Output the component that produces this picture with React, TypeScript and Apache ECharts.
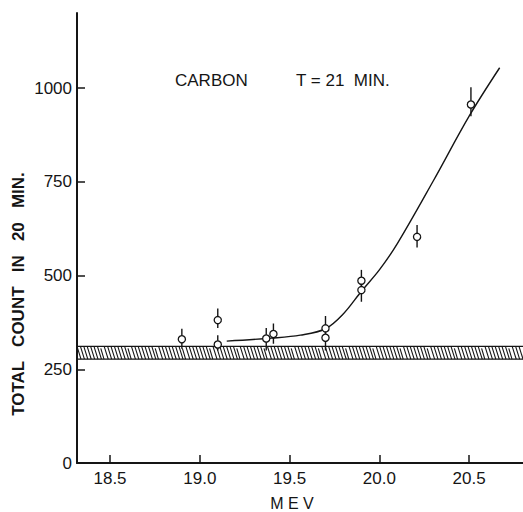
import React, { useEffect, useRef } from "react";
import * as echarts from "echarts";

// Measured points: energy (MeV), total count, error bar low/high
const pointX = [18.9, 19.1, 19.1, 19.37, 19.41, 19.7, 19.7, 19.9, 19.9, 20.21, 20.51];
const pointY = [330, 381, 316, 332, 344, 359, 334, 486, 461, 603, 956];
const errLow = [305, 360, 300, 300, 318, 335, 300, 470, 430, 575, 925];
const errHigh = [358, 412, 341, 360, 372, 392, 350, 515, 478, 635, 1002];

// Fitted curve
const curveX = [19.15, 19.4, 19.56, 19.7, 19.8, 19.9, 20.0, 20.1, 20.3, 20.5, 20.67];
const curveY = [325, 333, 341, 358, 398, 458, 515, 585, 752, 925, 1054];

// Background band
const bandLow = 277;
const bandHigh = 311;

const xTicks = [18.5, 19.0, 19.5, 20.0, 20.5];
const yTicks = [0, 250, 500, 750, 1000];
const xMin = 18.316;
const xMax = 20.8;
const yMin = 0;
const yMax = 1200;

const INK = "#151515";
const FONT = "'Liberation Sans', Arial, sans-serif";

export default function App() {
  const ref = useRef<HTMLDivElement>(null);
  useEffect(() => {
    document.body.style.margin = "0";
    const chart = echarts.init(ref.current!, null, { renderer: "svg" });
    const option: any = {
      animation: false,
      backgroundColor: "#ffffff",
      grid: { left: 77, top: 13, right: 0, bottom: 49, containLabel: false },
      xAxis: {
        type: "value",
        min: xMin,
        max: xMax,
        splitLine: { show: false },
        axisLine: { show: true, onZero: false, lineStyle: { color: INK, width: 2 } },
        axisTick: { show: true, inside: true, length: 8, customValues: xTicks, lineStyle: { color: INK, width: 1.5 } },
        axisLabel: {
          customValues: xTicks,
          formatter: (v: number) => v.toFixed(1),
          color: INK,
          fontSize: 17,
          fontFamily: FONT,
          margin: 7,
        },
      },
      yAxis: {
        type: "value",
        min: yMin,
        max: yMax,
        splitLine: { show: false },
        axisLine: { show: true, onZero: false, lineStyle: { color: INK, width: 2 } },
        axisTick: { show: true, inside: true, length: 8, customValues: yTicks, lineStyle: { color: INK, width: 1.5 } },
        axisLabel: {
          customValues: yTicks,
          formatter: (v: number) => String(v),
          color: INK,
          fontSize: 17,
          fontFamily: FONT,
          margin: 5,
        },
      },
      graphic: [
        {
          type: "text",
          x: 175,
          y: 80,
          style: { text: "CARBON", font: `17px ${FONT}`, fill: INK, textVerticalAlign: "middle" },
        },
        {
          type: "text",
          x: 296,
          y: 80,
          style: { text: "T = 21  MIN.", font: `17px ${FONT}`, fill: INK, textVerticalAlign: "middle" },
        },
        {
          type: "text",
          x: 18,
          y: 294,
          rotation: Math.PI / 2,
          style: {
            text: "TOTAL   COUNT   IN   20   MIN.",
            font: `bold 17px ${FONT}`,
            fill: INK,
            textAlign: "center",
            textVerticalAlign: "middle",
          },
        },
        {
          type: "text",
          x: 292,
          y: 503,
          style: {
            text: "M E V",
            font: `16px ${FONT}`,
            fill: INK,
            textAlign: "center",
            textVerticalAlign: "middle",
          },
        },
      ],
      series: [
        {
          type: "custom",
          name: "band",
          silent: true,
          clip: true,
          data: [[bandLow, bandHigh]],
          encode: { x: -1, y: [0, 1] },
          renderItem: (params: any, api: any) => {
            const cs = params.coordSys;
            const top = api.coord([xMin, api.value(1)])[1];
            const bot = api.coord([xMin, api.value(0)])[1];
            const x0 = cs.x;
            const x1 = cs.x + cs.width;
            const children: any[] = [];
            const style = { stroke: INK, lineWidth: 1.1 };
            children.push({ type: "line", shape: { x1: x0, y1: top, x2: x1, y2: top }, style });
            children.push({ type: "line", shape: { x1: x0, y1: bot, x2: x1, y2: bot }, style });
            const step = 3.4;
            const slant = 4;
            let i = 0;
            for (let x = x0; x < x1 - slant; x += step) {
              if (i % 8 !== 7) {
                children.push({ type: "line", shape: { x1: x, y1: top, x2: x + slant, y2: bot }, style });
              } else {
                children.push({ type: "line", shape: { x1: x, y1: top + 2, x2: x + slant * 0.8, y2: bot }, style });
              }
              i++;
            }
            return { type: "group", children };
          },
          z: 1,
        },
        {
          type: "line",
          name: "curve",
          data: curveX.map((x, i) => [x, curveY[i]]),
          smooth: 0.35,
          showSymbol: false,
          symbol: "none",
          lineStyle: { color: INK, width: 1.4 },
          z: 2,
        },
        {
          type: "custom",
          name: "points",
          data: pointX.map((x, i) => [x, pointY[i], errLow[i], errHigh[i]]),
          encode: { x: 0, y: 1 },
          renderItem: (params: any, api: any) => {
            const c = api.coord([api.value(0), api.value(1)]);
            const lo = api.coord([api.value(0), api.value(2)]);
            const hi = api.coord([api.value(0), api.value(3)]);
            return {
              type: "group",
              children: [
                {
                  type: "line",
                  shape: { x1: c[0], y1: hi[1], x2: c[0], y2: lo[1] },
                  style: { stroke: INK, lineWidth: 1.4 },
                },
                {
                  type: "circle",
                  shape: { cx: c[0], cy: c[1], r: 3.6 },
                  style: { fill: "#ffffff", stroke: INK, lineWidth: 1.3 },
                },
              ],
            };
          },
          z: 3,
        },
      ],
    };
    chart.setOption(option);
    return () => chart.dispose();
  }, []);
  return <div ref={ref} style={{ width: 523, height: 512 }} />;
}
